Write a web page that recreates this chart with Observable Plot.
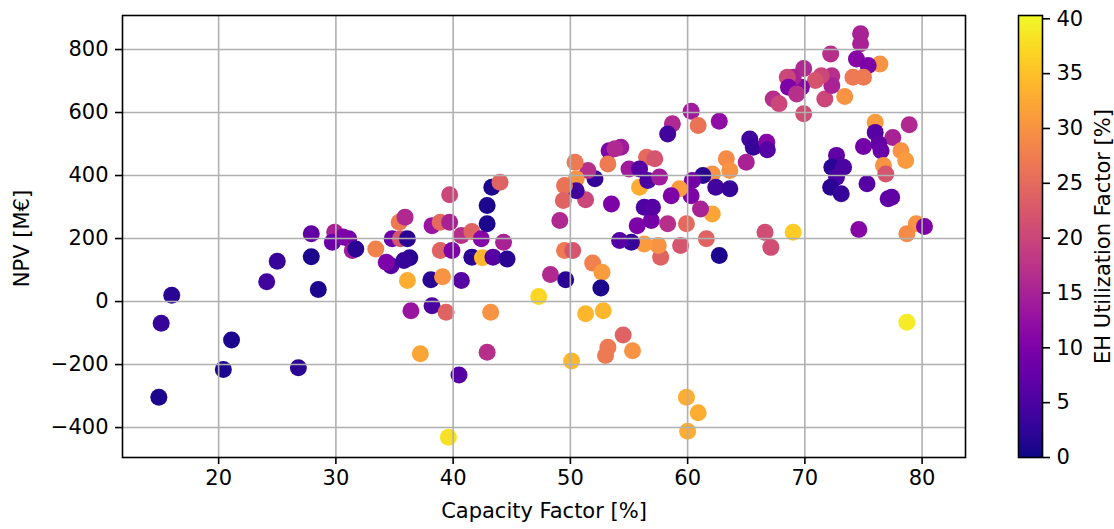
<!DOCTYPE html>
<html><head><meta charset="utf-8">
<script src="https://cdn.jsdelivr.net/npm/d3@7"></script>
<script src="https://cdn.jsdelivr.net/npm/@observablehq/plot@0.6"></script>
<style>
body{margin:0;background:#fff;}
#wrap{position:relative;width:1114px;height:529px;font-family:"DejaVu Sans",sans-serif;}
#wrap svg{position:absolute;top:0;}
</style></head><body><div id="wrap"></div>
<script>
// Capacity Factor [%]
const capacity = [16.0,15.1,14.9,21.1,20.4,26.8,24.1,25.0,27.9,27.9,28.5,29.9,29.7,31.1,31.4,31.7,30.6,
33.4,34.7,34.3,34.8,35.5,36.1,35.4,35.9,36.3,35.8,36.1,36.4,37.2,38.1,38.2,38.2,38.9,39.7,39.1,39.4,38.9,39.9,39.7,40.7,40.5,39.6,40.7,41.6,42.5,41.6,42.4,43.4,44.6,44.3,42.9,42.9,43.3,44.0,43.2,42.9,47.3,48.3,
60.3,58.7,58.3,60.9,62.7,65.3,65.6,65.0,63.3,63.6,62.1,61.3,62.4,63.6,60.4,60.3,59.3,58.6,62.1,61.1,59.9,61.6,62.7,59.4,58.3,57.7,57.5,56.3,55.2,54.2,55.7,56.9,56.3,57.0,55.9,56.6,57.6,56.5,57.2,55.0,55.9,54.3,53.3,53.2,53.5,52.1,51.5,51.3,50.4,50.5,50.5,49.5,49.4,49.1,49.5,50.2,49.6,51.9,52.7,52.6,51.3,52.8,54.5,53.2,53.0,55.3,50.1,59.9,60.9,60.0,53.8,
74.75,74.75,72.2,74.4,76.4,75.4,75.0,74.1,73.4,71.7,72.3,72.3,71.4,70.9,69.9,69.7,69.0,68.5,68.6,69.3,67.3,67.8,69.9,76.0,78.9,76.0,77.5,75.0,76.3,76.5,78.2,78.6,76.7,76.9,75.3,77.1,77.4,72.7,72.7,72.3,73.3,72.7,72.2,73.1,66.75,66.8,66.6,67.1,69.0,74.6,79.5,80.2,78.7,78.7];
// NPV [M€]
const npv = [20,-69,-304,-122,-216,-210,63,128,215,142,38,220,188,199,162,167,205,
167,114,125,199,199,199,252,268,139,130,67,-29,-166,69,-13,241,252,252,79,-34,162,162,339,67,-233,-431,210,141,139,222,199,141,135,188,247,305,363,379,-34,-161,16,86,
604,564,532,559,572,516,490,442,453,416,405,400,363,358,384,336,358,336,278,294,247,199,146,178,247,141,178,183,188,194,241,257,299,299,363,384,395,458,453,421,421,490,479,437,310,390,416,323,442,390,352,368,321,257,162,162,69,122,93,43,-39,-29,-106,-145,-171,-156,-189,-304,-353,-412,485,
850,818,786,770,754,749,712,712,651,643,717,686,717,702,740,680,712,712,680,659,643,628,596,569,561,537,521,492,501,479,479,448,432,405,374,326,331,464,432,426,426,395,363,342,506,482,220,172,220,229,247,238,215,-66];
// EH Utilization Factor [%]
const ehu = [2,3,1,1,1,2,4,3,7,1,1,15,8,9,14,2,10,
28,6,10,8,22,2,27,16,2,3,33,13,32,2,5,13,25,15,30,24,24,10,20,6,6,38,17,2,34,24,11,6,2,15,1,1,1,24,30,17,37,16,
14,16,4,26,12,4,3,15,29,30,30,2,4,3,9,10,31,10,32,15,25,24,1,22,17,24,30,31,3,6,10,9,5,6,33,5,14,25,22,14,6,14,10,27,10,3,17,20,27,30,4,26,24,16,27,22,2,28,31,1,34,34,24,27,27,30,34,33,33,33,16,
15,15,17,11,30,10,27,27,30,20,17,15,20,22,16,11,15,20,10,17,17,20,21,31,16,6,15,9,7,8,30,31,30,22,6,7,7,7,6,2,5,5,2,3,11,6,21,21,36,11,30,10,29,39];

const xTicks = [20,30,40,50,60,70,80];
const yTicks = [-400,-200,0,200,400,600,800];
const cTicks = [0,5,10,15,20,25,30,35,40];

const data = capacity.map((c,i)=>({cf:c, npv:npv[i], eh:ehu[i]}));
const cDomain = [0, 40.3];
const fmt = d3.format("d");
const FS = 21;
const font = {fontFamily:"DejaVu Sans", fontSize:FS+"px", color:"black", background:"transparent", overflow:"visible"};

const main = Plot.plot({
  width:1114, height:529, marginLeft:122, marginRight:149, marginTop:15, marginBottom:72,
  style: font,
  x:{domain:[11.8,83.7]},
  y:{domain:[-495,908]},
  color:{type:"linear", scheme:"plasma", domain:cDomain},
  marks:[
    Plot.dot(data,{x:"cf", y:"npv", fill:"eh", r:8.5}),
    Plot.gridX(xTicks,{stroke:"#b0b0b0", strokeOpacity:1, strokeWidth:1.6}),
    Plot.gridY(yTicks,{stroke:"#b0b0b0", strokeOpacity:1, strokeWidth:1.6}),
    Plot.axisX(xTicks,{tickSize:7, tickPadding:6, strokeWidth:1.6, fontSize:FS, label:null, tickFormat:fmt}),
    Plot.axisY(yTicks,{tickSize:7, tickPadding:7, strokeWidth:1.6, fontSize:FS, label:null, tickFormat:fmt}),
    Plot.frame({stroke:"black", strokeWidth:1.6}),
    Plot.text(["Capacity Factor [%]"],{frameAnchor:"bottom", textAnchor:"middle", dy:60, fontSize:FS, fill:"black", letterSpacing:"0.6px"}),
    Plot.text(["NPV [M€]"],{frameAnchor:"left", textAnchor:"middle", rotate:-90, dx:-100, dy:2, fontSize:FS, fill:"black", letterSpacing:"0.4px"})
  ]
});
main.style.left = "0px";
document.getElementById("wrap").appendChild(main);

const stripes = d3.range(0, 40.3, 0.1);
const cbar = Plot.plot({
  width:96, height:529, marginLeft:0, marginRight:72, marginTop:15, marginBottom:72,
  style: font,
  x:{domain:[0,1], axis:null},
  y:{domain:cDomain},
  color:{type:"linear", scheme:"plasma", domain:cDomain},
  marks:[
    Plot.rect(stripes,{x1:0, x2:1, y1:d=>d, y2:d=>Math.min(d+0.1,40.3), fill:d=>d+0.05, shapeRendering:"crispEdges"}),
    Plot.frame({stroke:"black", strokeWidth:1.6}),
    Plot.axisY(cTicks,{anchor:"right", tickSize:7, tickPadding:7, strokeWidth:1.6, fontSize:FS, label:null, tickFormat:fmt}),
    Plot.text(["EH Utilization Factor [%]"],{frameAnchor:"right", textAnchor:"middle", rotate:-90, dx:61, fontSize:FS, fill:"black", letterSpacing:"0.4px"})
  ]
});
cbar.style.left = "1018px";
document.getElementById("wrap").appendChild(cbar);
</script></body></html>
